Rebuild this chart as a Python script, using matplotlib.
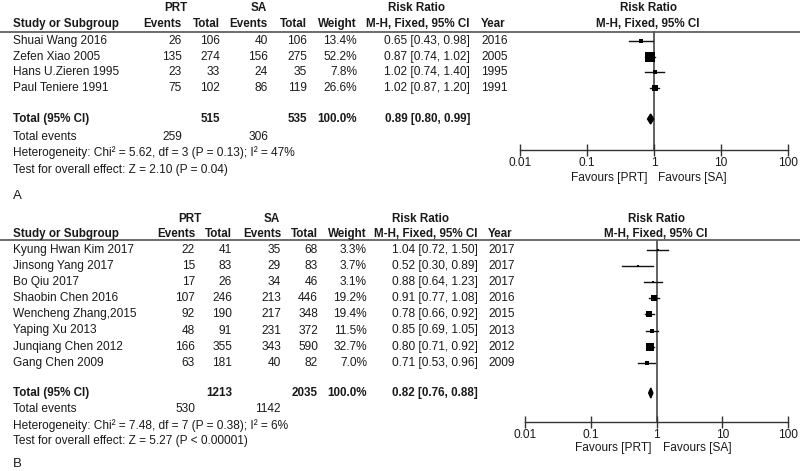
import matplotlib
matplotlib.use("Agg")
import matplotlib.pyplot as plt
from matplotlib.patches import Polygon

plt.rcParams['font.family'] = ['Liberation Sans', 'DejaVu Sans']

# ---------------- data: panel A ----------------
studies_a = ["Shuai Wang 2016", "Zefen Xiao 2005", "Hans U.Zieren 1995", "Paul Teniere 1991"]
prt_events_a = [26, 135, 23, 75]
prt_total_a = [106, 274, 33, 102]
sa_events_a = [40, 156, 24, 86]
sa_total_a = [106, 275, 35, 119]
weight_a = [13.4, 52.2, 7.8, 26.6]
rr_a = [0.65, 0.87, 1.02, 1.02]
lo_a = [0.43, 0.74, 0.74, 0.87]
hi_a = [0.98, 1.02, 1.40, 1.20]
year_a = [2016, 2005, 1995, 1991]
tot_prt_a, tot_sa_a = 515, 535
tot_weight_a = 100.0
tot_ev_prt_a, tot_ev_sa_a = 259, 306
pooled_a = (0.89, 0.80, 0.99)
het_a = "Heterogeneity: Chi\u00b2 = 5.62, df = 3 (P = 0.13); I\u00b2 = 47%"
test_a = "Test for overall effect: Z = 2.10 (P = 0.04)"

# ---------------- data: panel B ----------------
studies_b = ["Kyung Hwan Kim 2017", "Jinsong Yang 2017", "Bo Qiu 2017", "Shaobin Chen 2016",
             "Wencheng Zhang,2015", "Yaping Xu 2013", "Junqiang Chen 2012", "Gang Chen 2009"]
prt_events_b = [22, 15, 17, 107, 92, 48, 166, 63]
prt_total_b = [41, 83, 26, 246, 190, 91, 355, 181]
sa_events_b = [35, 29, 34, 213, 217, 231, 343, 40]
sa_total_b = [68, 83, 46, 446, 348, 372, 590, 82]
weight_b = [3.3, 3.7, 3.1, 19.2, 19.4, 11.5, 32.7, 7.0]
rr_b = [1.04, 0.52, 0.88, 0.91, 0.78, 0.85, 0.80, 0.71]
lo_b = [0.72, 0.30, 0.64, 0.77, 0.66, 0.69, 0.71, 0.53]
hi_b = [1.50, 0.89, 1.23, 1.08, 0.92, 1.05, 0.92, 0.96]
year_b = [2017, 2017, 2017, 2016, 2015, 2013, 2012, 2009]
tot_prt_b, tot_sa_b = 1213, 2035
tot_weight_b = 100.0
tot_ev_prt_b, tot_ev_sa_b = 530, 1142
pooled_b = (0.82, 0.76, 0.88)
het_b = "Heterogeneity: Chi\u00b2 = 7.48, df = 7 (P = 0.38); I\u00b2 = 6%"
test_b = "Test for overall effect: Z = 5.27 (P < 0.00001)"

axis_ticks = [0.01, 0.1, 1, 10, 100]
axis_labels = ["0.01", "0.1", "1", "10", "100"]

W, H = 800, 471
fig = plt.figure(figsize=(W / 100, H / 100), dpi=100)
fig.patch.set_facecolor("white")
bg = fig.add_axes([0, 0, 1, 1])
bg.set_xlim(0, W)
bg.set_ylim(H, 0)
bg.axis("off")

TXT = "#1a1a1a"
FS = 8.6
FSB = 8.4


def t(x, y, s, ha="left", bold=False, fs=None):
    bg.text(x, y, s, ha=ha, va="center", color=TXT,
            fontsize=fs if fs else (FSB if bold else FS),
            fontweight="bold" if bold else "normal")


def panel(studies, pe, pt, se, st, w, rr, lo, hi, yr, totp, tots, totw, tevp, tevs,
          pooled, het, test, letter, L):
    # headers
    t(L["prt_c"], L["h1"], "PRT", ha="center", bold=True)
    t(L["sa_c"], L["h1"], "SA", ha="center", bold=True)
    t(L["rr_c"], L["h1"], "Risk Ratio", ha="center", bold=True)
    t(L["fp_c"], L["h1"], "Risk Ratio", ha="center", bold=True)
    t(13, L["h2"], "Study or Subgroup", bold=True)
    t(L["c1"], L["h2"], "Events", ha="right", bold=True)
    t(L["c2"], L["h2"], "Total", ha="right", bold=True)
    t(L["c3"], L["h2"], "Events", ha="right", bold=True)
    t(L["c4"], L["h2"], "Total", ha="right", bold=True)
    t(L["c5"], L["h2"], "Weight", ha="right", bold=True)
    t(L["c6"], L["h2"], "M-H, Fixed, 95% CI", ha="right", bold=True)
    t(L["c7"], L["h2"], "Year", bold=True)
    t(L["fp_c"], L["h2"], "M-H, Fixed, 95% CI", ha="center", bold=True)
    bg.plot([0, W], [L["line"], L["line"]], color="#444444", lw=1.1, solid_capstyle="butt")

    rows = [L["r0"] + i * L["step"] for i in range(len(studies))]
    for i, y in enumerate(rows):
        t(13, y, studies[i])
        t(L["c1"], y, str(pe[i]), ha="right")
        t(L["c2"], y, str(pt[i]), ha="right")
        t(L["c3"], y, str(se[i]), ha="right")
        t(L["c4"], y, str(st[i]), ha="right")
        t(L["c5"], y, f"{w[i]:.1f}%", ha="right")
        t(L["c6"], y, f"{rr[i]:.2f} [{lo[i]:.2f}, {hi[i]:.2f}]", ha="right")
        t(L["c7"], y, str(yr[i]))

    t(13, L["tot"], "Total (95% CI)", bold=True)
    t(L["c2"], L["tot"], str(totp), ha="right", bold=True)
    t(L["c4"], L["tot"], str(tots), ha="right", bold=True)
    t(L["c5"], L["tot"], f"{totw:.1f}%", ha="right", bold=True)
    t(L["c6"], L["tot"], f"{pooled[0]:.2f} [{pooled[1]:.2f}, {pooled[2]:.2f}]", ha="right", bold=True)
    t(13, L["tev"], "Total events")
    t(L["c1"], L["tev"], str(tevp), ha="right")
    t(L["c3"], L["tev"], str(tevs), ha="right")
    t(13, L["het"], het)
    t(13, L["test"], test)
    t(13, L["letter"], letter, fs=9.5)

    # forest axes
    x0, x1 = L["ax0"], L["ax1"]
    ytop, ybot = L["line"], L["axis"]
    ax = fig.add_axes([x0 / W, 1 - ybot / H, (x1 - x0) / W, (ybot - ytop) / H])
    ax.set_xscale("log")
    ax.set_xlim(axis_ticks[0], axis_ticks[-1])
    ax.set_ylim(ybot, ytop)
    ax.patch.set_alpha(0)
    for s in ["top", "left", "right"]:
        ax.spines[s].set_visible(False)
    ax.spines["bottom"].set_color("#333333")
    ax.spines["bottom"].set_linewidth(1.0)
    ax.set_yticks([])
    ax.set_xticks(axis_ticks)
    ax.set_xticklabels(axis_labels)
    ax.minorticks_off()
    ax.tick_params(axis="x", direction="inout", length=8, width=1.0, color="#333333",
                   labelsize=FS, labelcolor=TXT, pad=1)
    ax.axvline(1, color="#555555", lw=1.3, zorder=1)
    for i, y in enumerate(rows):
        ax.plot([lo[i], hi[i]], [y, y], color="#111111", lw=1.0, zorder=2)
        side_px = 1.3 * w[i] ** 0.5
        ax.plot([rr[i]], [y], marker="s", markersize=side_px * 0.72,
                color="#000000", markeredgewidth=0, zorder=3)
    est, plo, phi = pooled
    yt = L["tot"]
    ax.add_patch(Polygon([(plo, yt), (est, yt - 5), (phi, yt), (est, yt + 5)],
                         closed=True, color="#000000", zorder=3))
    ax.set_clip_on(False)
    t(L["fav1"], L["fav"], "Favours [PRT]", ha="center")
    t(L["fav2"], L["fav"], "Favours [SA]", ha="center")


LA = dict(h1=8, h2=24, line=31.5, r0=41, step=15.7, tot=119, tev=137, het=153, test=170, letter=196,
          prt_c=176, sa_c=259, rr_c=416, fp_c=648,
          c1=182, c2=220, c3=268, c4=307, c5=357, c6=470, c7=481,
          ax0=520, ax1=788, axis=150, fav=178, fav1=609, fav2=692)
LB = dict(h1=219, h2=234, line=239.5, r0=250, step=16.1, tot=393, tev=409, het=426, test=441, letter=464,
          prt_c=190, sa_c=272, rr_c=421, fp_c=656,
          c1=195, c2=232, c3=281, c4=318, c5=367, c6=478, c7=488,
          ax0=525, ax1=788, axis=422, fav=448, fav1=613, fav2=697)

panel(studies_a, prt_events_a, prt_total_a, sa_events_a, sa_total_a, weight_a, rr_a, lo_a, hi_a,
      year_a, tot_prt_a, tot_sa_a, tot_weight_a, tot_ev_prt_a, tot_ev_sa_a, pooled_a, het_a, test_a, "A", LA)
panel(studies_b, prt_events_b, prt_total_b, sa_events_b, sa_total_b, weight_b, rr_b, lo_b, hi_b,
      year_b, tot_prt_b, tot_sa_b, tot_weight_b, tot_ev_prt_b, tot_ev_sa_b, pooled_b, het_b, test_b, "B", LB)

fig.savefig("out.png", dpi=100, facecolor="white")
